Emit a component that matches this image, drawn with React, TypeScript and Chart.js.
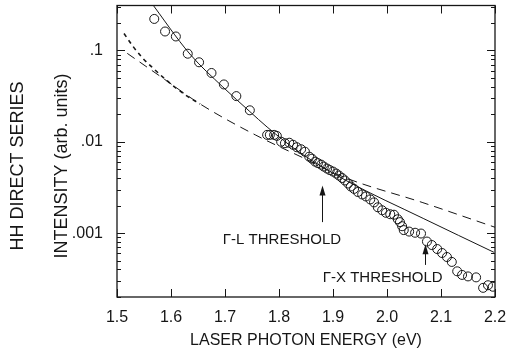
import React, { useEffect, useRef } from "react";
import { Chart, registerables } from "chart.js";

Chart.register(...registerables);

// Measured data (open circles)
const energy = [1.569, 1.589, 1.609, 1.631, 1.652, 1.675, 1.698, 1.721, 1.746, 1.778, 1.783, 1.791, 1.796, 1.804, 1.811, 1.819, 1.826, 1.833, 1.841, 1.848, 1.856, 1.861, 1.867, 1.872, 1.878, 1.883, 1.889, 1.894, 1.9, 1.906, 1.911, 1.917, 1.922, 1.928, 1.933, 1.939, 1.946, 1.954, 1.961, 1.969, 1.976, 1.983, 1.991, 1.998, 2.006, 2.013, 2.02, 2.024, 2.028, 2.031, 2.041, 2.052, 2.063, 2.074, 2.083, 2.093, 2.102, 2.111, 2.12, 2.13, 2.139, 2.15, 2.165, 2.178, 2.187, 2.196];
const intensity = [0.221, 0.161, 0.142, 0.092, 0.0741, 0.0566, 0.0424, 0.0316, 0.0221, 0.0119, 0.0119, 0.0119, 0.0116, 0.01, 0.00964, 0.00976, 0.00927, 0.00871, 0.00828, 0.00778, 0.00687, 0.00653, 0.00606, 0.00584, 0.00562, 0.00535, 0.00509, 0.0049, 0.00472, 0.00449, 0.00427, 0.00401, 0.00377, 0.00349, 0.00324, 0.00305, 0.00282, 0.00265, 0.00252, 0.00234, 0.00217, 0.00192, 0.00178, 0.00167, 0.00161, 0.00159, 0.00142, 0.00132, 0.00119, 0.00108, 0.00104, 0.00101, 0.00099, 0.000809, 0.000741, 0.00067, 0.000606, 0.000548, 0.000484, 0.000382, 0.000349, 0.000336, 0.000328, 0.000252, 0.000269, 0.000259];

// Solid theory curve
const solidE = [1.56, 1.635, 1.696, 1.746, 1.778, 1.839, 1.926, 2.067, 2.198];
const solidI = [0.355, 0.0912, 0.0398, 0.0214, 0.0145, 0.00759, 0.00372, 0.00145, 0.000617];

// Long-dashed curve
const dashE = [1.519, 1.58, 1.654, 1.756, 1.844, 1.922, 2.065, 2.2];
const dashI = [0.0928, 0.0521, 0.0259, 0.0119, 0.0067, 0.00406, 0.00217, 0.00116];

// Short-dashed (heavier) curve at low energy
const shortE = [1.513, 1.53, 1.548, 1.567, 1.598, 1.63, 1.654];
const shortI = [0.153, 0.11, 0.0818, 0.0637, 0.0438, 0.0316, 0.0259];

// Axes
const xTicks = [1.5, 1.6, 1.7, 1.8, 1.9, 2.0, 2.1, 2.2];
const yTicks = [0.001, 0.01, 0.1];
const yTickLabels = [".001", ".01", ".1"];
const xTitle = "LASER PHOTON ENERGY (eV)";
const yTitle = ["HH DIRECT SERIES", "INTENSITY (arb. units)"];

// Threshold annotations
const thresholdLabels = ["Γ-L THRESHOLD", "Γ-X THRESHOLD"];
const thresholdE = [1.88, 2.07];
const arrowTip = [0.00333, 0.000758];
const arrowTail = [0.00132, 0.000449];
const labelE = [1.915, 1.881];
const labelBase = [0.000758, 0.000293];
const labelAlign = ["right", "left"];

const INK = "#161616";
const FONT = "'Liberation Sans', Arial, Helvetica, sans-serif";

const overlay = {
  id: "overlay",
  afterDraw(chart: any) {
    const { ctx, chartArea: a, scales } = chart;
    const x = scales.x;
    const y = scales.y;
    ctx.save();
    ctx.strokeStyle = INK;
    ctx.fillStyle = INK;
    ctx.lineWidth = 1.3;
    ctx.strokeRect(a.left, a.top, a.right - a.left, a.bottom - a.top);
    ctx.lineWidth = 1;
    const seg = (x1: number, y1: number, x2: number, y2: number) => {
      ctx.beginPath();
      ctx.moveTo(x1, y1);
      ctx.lineTo(x2, y2);
      ctx.stroke();
    };
    xTicks.forEach((v) => {
      const px = Math.round(x.getPixelForValue(v)) + 0.5;
      seg(px, a.bottom, px, a.bottom - 8);
      seg(px, a.top, px, a.top + 8);
    });
    const yMin = y.min;
    const yMax = y.max;
    [1e-4, 1e-3, 1e-2, 1e-1].forEach((d) => {
      for (let m = 1; m <= 9; m++) {
        const v = m * d;
        if (v < yMin || v > yMax) continue;
        const py = Math.round(y.getPixelForValue(v)) + 0.5;
        const len = m === 1 ? 8 : 4;
        seg(a.left, py, a.left + len, py);
        seg(a.right, py, a.right - len, py);
      }
    });

    // arrows and threshold labels
    thresholdLabels.forEach((txt, i) => {
      const px = Math.round(x.getPixelForValue(thresholdE[i])) + 0.5;
      const tip = y.getPixelForValue(arrowTip[i]);
      const tail = y.getPixelForValue(arrowTail[i]);
      seg(px, tail, px, tip + 6);
      ctx.beginPath();
      ctx.moveTo(px, tip);
      ctx.lineTo(px - 3, tip + 10);
      ctx.lineTo(px + 3, tip + 10);
      ctx.closePath();
      ctx.fill();
      ctx.font = `15px ${FONT}`;
      ctx.textAlign = labelAlign[i] as CanvasTextAlign;
      ctx.textBaseline = "alphabetic";
      ctx.fillText(txt, x.getPixelForValue(labelE[i]), y.getPixelForValue(labelBase[i]));
    });

    // axis titles
    ctx.font = `16px ${FONT}`;
    ctx.textAlign = "center";
    ctx.textBaseline = "alphabetic";
    ctx.fillText(xTitle, (a.left + a.right) / 2, 345);

    ctx.font = `18px ${FONT}`;
    ctx.textBaseline = "middle";
    const cy = 166;
    [18, 62].forEach((cx, i) => {
      ctx.save();
      ctx.translate(cx, cy);
      ctx.rotate(-Math.PI / 2);
      ctx.fillText(yTitle[i], 0, 0);
      ctx.restore();
    });
    ctx.restore();
  },
};

export default function App() {
  const ref = useRef<HTMLCanvasElement | null>(null);
  useEffect(() => {
    if (!ref.current) return;
    const pts = (xs: number[], ys: number[]) => xs.map((v, i) => ({ x: v, y: ys[i] }));
    const chart = new Chart(ref.current, {
      type: "scatter",
      data: {
        datasets: [
          {
            label: "data",
            data: pts(energy, intensity),
            pointStyle: "circle",
            pointRadius: 4.5,
            pointBorderWidth: 1,
            pointBorderColor: INK,
            pointBackgroundColor: "rgba(255,255,255,0)",
            showLine: false,
            order: 0,
          },
          {
            label: "solid",
            data: pts(solidE, solidI),
            showLine: true,
            borderColor: INK,
            borderWidth: 1,
            pointRadius: 0,
            cubicInterpolationMode: "monotone",
            order: 1,
          },
          {
            label: "dashed",
            data: pts(dashE, dashI),
            showLine: true,
            borderColor: INK,
            borderWidth: 1,
            borderDash: [9, 6],
            pointRadius: 0,
            cubicInterpolationMode: "monotone",
            order: 2,
          },
          {
            label: "short",
            data: pts(shortE, shortI),
            showLine: true,
            borderColor: INK,
            borderWidth: 1.6,
            borderDash: [4, 4],
            pointRadius: 0,
            cubicInterpolationMode: "monotone",
            order: 3,
          },
        ],
      },
      options: {
        responsive: false,
        animation: false,
        events: [],
        layout: { padding: { top: 4, right: 14, left: 0, bottom: 0 } },
        plugins: { legend: { display: false }, tooltip: { enabled: false } },
        scales: {
          x: {
            type: "linear",
            min: 1.5,
            max: 2.2,
            afterBuildTicks: (s: any) => {
              s.ticks = xTicks.map((v) => ({ value: v }));
            },
            afterFit: (s: any) => {
              s.height = 57;
              s.paddingLeft = 0;
              s.paddingRight = 0;
              s.paddingTop = 0;
              s.paddingBottom = 0;
            },
            ticks: {
              autoSkip: false,
              maxRotation: 0,
              padding: 11,
              color: INK,
              font: { family: FONT, size: 16 },
              callback: (v: any) => Number(v).toFixed(1),
            },
            grid: { display: false, drawTicks: false },
            border: { display: false },
          },
          y: {
            type: "logarithmic",
            min: 0.0002,
            max: 0.31,
            afterBuildTicks: (s: any) => {
              s.ticks = yTicks.map((v) => ({ value: v }));
            },
            afterFit: (s: any) => {
              s.width = 117;
              s.paddingLeft = 0;
              s.paddingRight = 0;
              s.paddingTop = 0;
              s.paddingBottom = 0;
            },
            ticks: {
              autoSkip: false,
              padding: 14,
              color: INK,
              font: { family: FONT, size: 16 },
              callback: (v: any) => {
                const i = yTicks.findIndex((t) => Math.abs(t - Number(v)) / t < 1e-6);
                return i >= 0 ? yTickLabels[i] : "";
              },
            },
            grid: { display: false, drawTicks: false },
            border: { display: false },
          },
        },
      },
      plugins: [overlay],
    } as any);
    return () => chart.destroy();
  }, []);
  return (
    <div style={{ position: "fixed", left: 0, top: 0, width: 509, height: 354, background: "#fff" }}>
      <canvas ref={ref} width={509} height={354} style={{ display: "block" }} />
    </div>
  );
}
